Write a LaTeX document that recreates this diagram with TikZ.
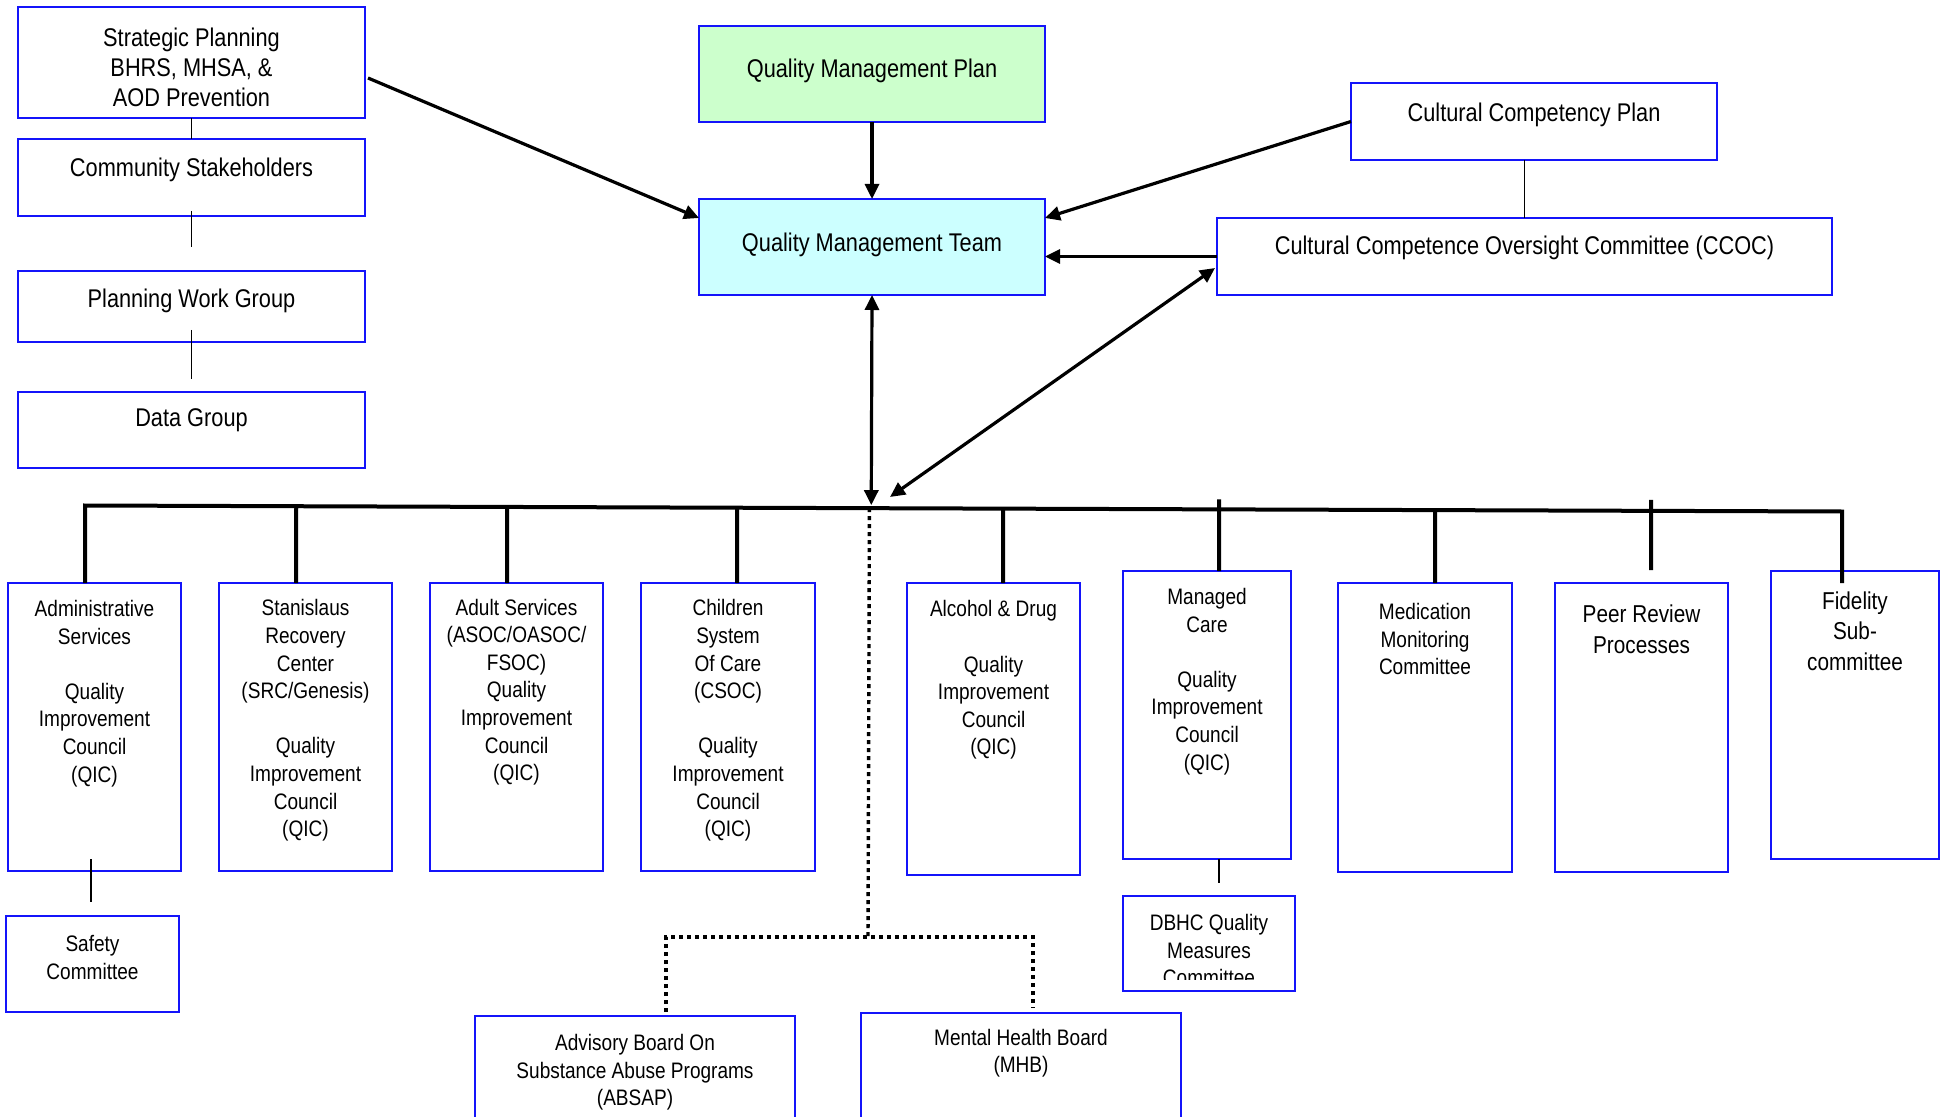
\documentclass[tikz,border=0pt]{standalone}
\usepackage{fontspec}
\setmainfont[FakeStretch=0.85]{Liberation Sans}
\usetikzlibrary{arrows.meta,calc}
\definecolor{bord}{RGB}{20,20,250}
\definecolor{qmpfill}{RGB}{204,255,204}
\definecolor{qmtfill}{RGB}{204,255,255}
\newcommand\fbig{\fontsize{12.8}{15}\selectfont}
\newcommand\fsm{\fontsize{11.2}{13.8}\selectfont}
\newcommand\fmid{\fontsize{12.2}{15.3}\selectfont}
\newcommand\rbox[6][]{\node[boxsty,#1,minimum width={(#5-#3)*0.5pt},minimum height={(#6-#4)*0.5pt}] (#2) at ({(#3+#5)/2},{(#4+#6)/2}) {};}
\tikzset{
  boxsty/.style={draw=bord, line width=1.1pt, inner sep=0pt, outer sep=0pt, fill=white},
  txt/.style={align=center, inner sep=0pt, font=\fsm, yshift=-1.25pt},
  thinln/.style={line width=0.9pt},
  busln/.style={line width=2pt},
  arr/.style={line width=1.6pt, -{Triangle[length=7.5pt,width=7pt]}},
  darr/.style={line width=1.6pt, {Triangle[length=7.5pt,width=7pt]}-{Triangle[length=7.5pt,width=7pt]}},
  dotln/.style={line width=1.7pt, dash pattern=on 2pt off 2pt},
}
\begin{document}
\begin{tikzpicture}[x=0.5pt,y=-0.5pt]
\useasboundingbox (0,0) rectangle (1946,1117);
\clip (0,0) rectangle (1946,1117);
\fill[white] (0,0) rectangle (1946,1117);
% boxes
\rbox{sp}{18}{7}{365}{118}
\rbox{cs}{18}{139}{365}{216}
\rbox{pwg}{18}{271}{365}{342}
\rbox{dg}{18}{392}{365}{468}
\rbox[fill=qmpfill]{qmp}{699}{26}{1045}{122}
\rbox[fill=qmtfill]{qmt}{699}{199}{1045}{295}
\rbox{ccp}{1351}{83}{1717}{160}
\rbox{ccoc}{1217}{218}{1832}{295}
\rbox{admin}{8}{583}{181}{871}
\rbox{src}{219}{583}{392}{871}
\rbox{adult}{430}{583}{603}{871}
\rbox{csoc}{641}{583}{815}{871}
\rbox{aod}{907}{583}{1080}{875}
\rbox{mc}{1123}{571}{1291}{859}
\rbox{med}{1338}{583}{1512}{872}
\rbox{peer}{1555}{583}{1728}{872}
\rbox{fid}{1771}{571}{1939}{859}
\rbox{safety}{6}{916}{179}{1012}
\rbox{dbhc}{1123}{896}{1295}{991}
\rbox{absap}{475}{1016}{795}{1140}
\rbox{mhb}{861}{1013}{1181}{1140}
% texts
\node[txt,font=\fbig] (t-sp) at (191.5,65) {Strategic Planning\\BHRS, MHSA, \&\\AOD Prevention};
\node[txt,font=\fbig] (t-cs) at (191.5,167) {Community Stakeholders};
\node[txt,font=\fbig] (t-pwg) at (191.5,298) {Planning Work Group};
\node[txt,font=\fbig] (t-dg) at (191.5,418) {Data Group};
\node[txt,font=\fbig] (t-qmp) at (872,68) {Quality Management Plan};
\node[txt,font=\fbig] (t-qmt) at (872,242) {Quality Management Team};
\node[txt,font=\fbig] (t-ccp) at (1534,112) {Cultural Competency Plan};
\node[txt,font=\fbig] (t-ccoc) at (1524.5,245) {Cultural Competence Oversight Committee (CCOC)};
\node[txt] (t-admin) at (94.5,691) {Administrative\\Services\\[13.8pt]Quality\\Improvement\\Council\\(QIC)};
\node[txt] (t-src) at (305.5,718) {Stanislaus\\Recovery\\Center\\(SRC/Genesis)\\[13.8pt]Quality\\Improvement\\Council\\(QIC)};
\node[txt] (t-adult) at (516.5,689.5) {Adult Services\\(ASOC/OASOC/\\FSOC)\\Quality\\Improvement\\Council\\(QIC)};
\node[txt] (t-csoc) at (728,718) {Children\\System\\Of Care\\(CSOC)\\[13.8pt]Quality\\Improvement\\Council\\(QIC)};
\node[txt] (t-aod) at (993.5,677.5) {Alcohol \& Drug\\[13.8pt]Quality\\Improvement\\Council\\(QIC)};
\node[txt] (t-mc) at (1207,679) {Managed\\Care\\[13.8pt]Quality\\Improvement\\Council\\(QIC)};
\node[txt] (t-med) at (1425,636.5) {Medication\\Monitoring\\Committee};
\node[txt,font=\fmid] (t-peer) at (1641.5,626.5) {Peer Review\\Processes};
\node[txt,font=\fmid] (t-fid) at (1855,628.5) {Fidelity\\Sub-\\committee};
\node[txt] (t-safety) at (92.5,955) {Safety\\Committee};
\begin{scope}
\clip (1123,896) rectangle (1295,979);
\node[txt] (t-dbhc) at (1209,947.5) {DBHC Quality\\Measures\\Committee};
\end{scope}
\node[txt] (t-absap) at (635,1070) {Advisory Board On\\Substance Abuse Programs\\(ABSAP)};
\node[txt] (t-mhb) at (1021,1050.5) {Mental Health Board\\(MHB)};
% left column connectors
\draw[thinln] (sp.south) -- (cs.north);
\draw[thinln, shorten <=-2.5pt, shorten >=12pt] (cs.south) -- (pwg.north);
\draw[thinln, shorten <=-6pt, shorten >=6.5pt] (pwg.south) -- (dg.north);
\draw[thinln] (ccp.south -| ccoc.north) -- (ccoc.north);
\draw[thinln, shorten <=-6pt, shorten >=7pt] ([xshift=-1.75pt]admin.south) -- ([xshift=-1.75pt]admin.south |- safety.north);
\draw[thinln, shorten >=6.5pt] ([xshift=6pt]mc.south) -- ([xshift=6pt]mc.south |- dbhc.north);
% bus
\coordinate (busL) at (85,505.5);
\coordinate (busR) at (1842,511.5);
\draw[busln] (busL |- admin.north) -- (busL) -- (busR) -- ($(busR |- fid.north)+(0,12)$);
\draw[busln] ($(busL)!([xshift=-4.75pt]src.north)!(busR)$) -- ([xshift=-4.75pt]src.north);
\draw[busln] ($(busL)!([xshift=-4.75pt]adult.north)!(busR)$) -- ([xshift=-4.75pt]adult.north);
\draw[busln] ($(busL)!([xshift=4.5pt]csoc.north)!(busR)$) -- ([xshift=4.5pt]csoc.north);
\draw[busln] ($(busL)!([xshift=4.75pt]aod.north)!(busR)$) -- ([xshift=4.75pt]aod.north);
\draw[busln, shorten <=-5pt] ($(busL)!([xshift=6pt]mc.north)!(busR)$) -- ([xshift=6pt]mc.north);
\draw[busln] ($(busL)!([xshift=5pt]med.north)!(busR)$) -- ([xshift=5pt]med.north);
\draw[busln, shorten <=-5.5pt, shorten >=6.5pt] ($(busL)!([xshift=4.75pt]peer.north)!(busR)$) -- ([xshift=4.75pt]peer.north);
% arrows
\draw[arr] ($(sp.east)+(3,15.5)$) -- ($(qmt.north west)+(0,19)$);
\draw[arr] (qmp.south) -- (qmt.north);
\draw[arr] (ccp.west) -- ($(qmt.north east)+(0,19)$);
\draw[arr] (ccoc.west) -- (ccoc.west -| qmt.east);
\draw[darr, shorten >=1.5pt] (qmt.south) -- ($(busL)!(qmt.south)!(busR)$);
\coordinate (ccbus) at (890,497);
\draw[darr] ($(ccoc.south west)+(-2,-27)$) -- (ccbus);
% dotted advisory links
\coordinate (dj) at (868,937);
\draw[dotln] ($(busL)!(dj)!(busR)$) -- (dj);
\draw[dotln] ([xshift=15.5pt,yshift=2pt]absap.north) |- (dj) -| ([xshift=6pt,yshift=2.5pt]mhb.north);
\end{tikzpicture}
\end{document}
